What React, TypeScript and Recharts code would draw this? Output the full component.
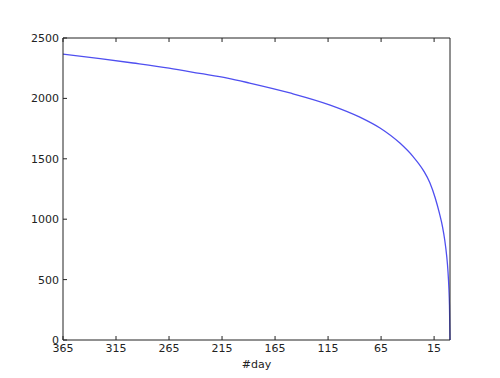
import { LineChart, Line, XAxis, YAxis } from "recharts";

// days remaining
const days = [365, 330, 299, 265, 236, 210, 189, 150, 113, 85, 66, 47, 35, 25, 19, 14, 10, 7, 5, 3, 2, 1, 0.5, 0];
const values = [2367, 2330, 2293, 2250, 2207, 2168, 2127, 2043, 1945, 1845, 1755, 1628, 1520, 1402, 1302, 1178, 1050, 935, 830, 685, 580, 420, 290, 0];

const xTicks = [365, 315, 265, 215, 165, 115, 65, 15];
const yTicks = [0, 500, 1000, 1500, 2000, 2500];

const data = days.map((d, i) => ({ day: d, value: values[i] }));

const INK = "#222";
const font = { fontFamily: "DejaVu Sans", fontSize: 11, fill: INK };
const axisLine = { stroke: INK, strokeWidth: 1 };

// matplotlib-style inward ticks
const BottomTick = (p: any) => (
  <g>
    <line x1={p.x} x2={p.x} y1={p.y} y2={p.y - 4} stroke={INK} />
    <text x={p.x} y={p.y + 4} dy="0.71em" textAnchor="middle" {...font}>
      {p.payload.value}
    </text>
  </g>
);
const TopTick = (p: any) => (
  <line x1={p.x} x2={p.x} y1={p.y} y2={p.y + 4} stroke={INK} />
);
const LeftTick = (p: any) => (
  <g>
    <line x1={p.x} x2={p.x + 4} y1={p.y} y2={p.y} stroke={INK} />
    <text x={p.x - 4} y={p.y} dy="0.355em" textAnchor="end" {...font}>
      {p.payload.value}
    </text>
  </g>
);
const RightTick = (p: any) => (
  <line x1={p.x} x2={p.x - 4} y1={p.y} y2={p.y} stroke={INK} />
);

export default function App() {
  return (
    <div style={{ position: "absolute", left: 0, top: 0, background: "#fff" }}>
      <LineChart
        width={500}
        height={378}
        data={data}
        margin={{ top: 37, right: 49, left: 0, bottom: 0 }}
      >
        <XAxis
          xAxisId="bottom"
          dataKey="day"
          type="number"
          domain={[0, 365]}
          reversed
          ticks={xTicks}
          interval={0}
          height={38}
          tickSize={0}
          tickMargin={0}
          tickLine={false}
          tick={<BottomTick />}
          axisLine={axisLine}
          label={{ value: "#day", position: "insideBottom", offset: 10, style: font }}
        />
        <XAxis
          xAxisId="top"
          orientation="top"
          dataKey="day"
          type="number"
          domain={[0, 365]}
          reversed
          ticks={xTicks}
          interval={0}
          height={1}
          tickSize={0}
          tickMargin={0}
          tickLine={false}
          tick={<TopTick />}
          axisLine={axisLine}
        />
        <YAxis
          yAxisId="left"
          type="number"
          domain={[0, 2500]}
          ticks={yTicks}
          interval={0}
          width={63}
          tickSize={0}
          tickMargin={0}
          tickLine={false}
          tick={<LeftTick />}
          axisLine={axisLine}
        />
        <YAxis
          yAxisId="right"
          orientation="right"
          type="number"
          domain={[0, 2500]}
          ticks={yTicks}
          interval={0}
          width={1}
          tickSize={0}
          tickMargin={0}
          tickLine={false}
          tick={<RightTick />}
          axisLine={axisLine}
        />
        <Line
          xAxisId="bottom"
          yAxisId="left"
          type="monotone"
          dataKey="value"
          stroke="#4f4ff0"
          strokeWidth={1.3}
          dot={false}
          isAnimationActive={false}
        />
      </LineChart>
    </div>
  );
}
